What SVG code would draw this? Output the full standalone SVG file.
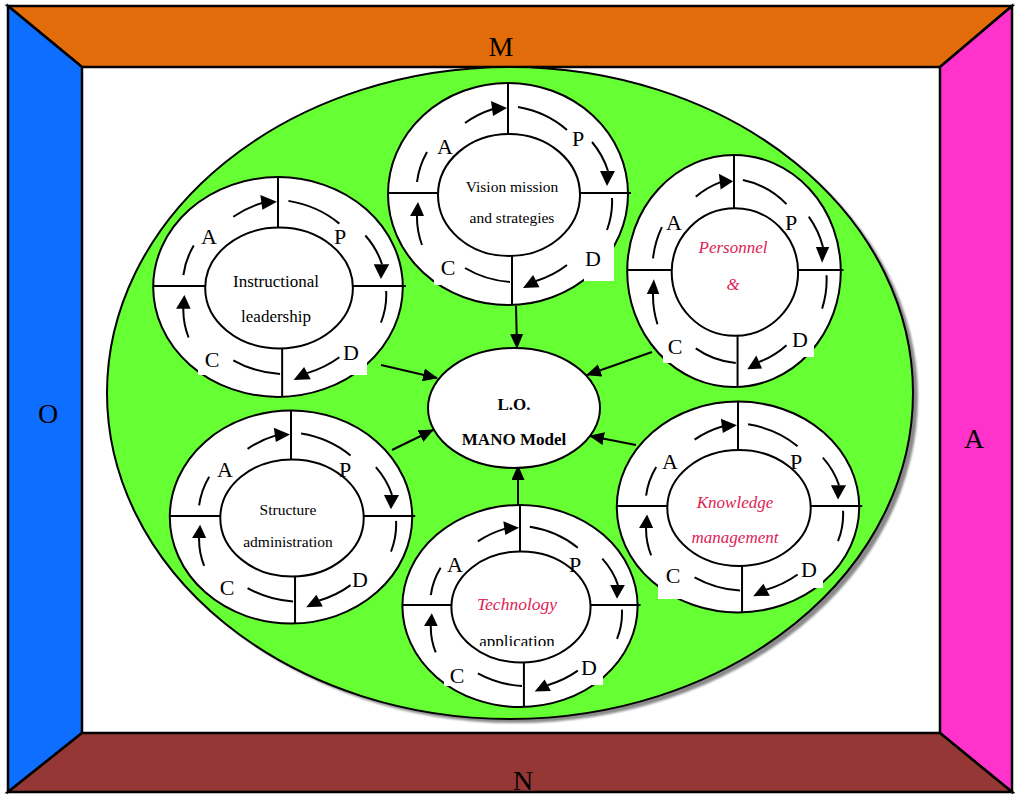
<svg xmlns="http://www.w3.org/2000/svg" xmlns:xlink="http://www.w3.org/1999/xlink" width="1015" height="794" viewBox="0 0 1015 794">
<style>
.fr{stroke:#000;stroke-width:2.5;stroke-linejoin:miter}
.big{font-family:"Liberation Serif",serif;font-size:28px;fill:#000;text-anchor:middle}
.o{fill:#fff;stroke:#000;stroke-width:2;vector-effect:non-scaling-stroke}
.l{fill:none;stroke:#000;stroke-width:2;vector-effect:non-scaling-stroke}
.h{fill:#000;stroke:none}
.wb{fill:#fff;stroke:none}
.pd{font-family:"Liberation Serif",serif;font-size:22px;fill:#000;text-anchor:middle}
.t{font-family:"Liberation Serif",serif;font-size:15.5px;fill:#000;text-anchor:middle}
.t17{font-family:"Liberation Serif",serif;font-size:17px;fill:#000;text-anchor:middle}
.it{font-family:"Liberation Serif",serif;font-size:17px;font-style:italic;fill:#DD2255;text-anchor:middle}
.b{font-family:"Liberation Serif",serif;font-size:17px;font-weight:bold;fill:#000;text-anchor:middle}
.c{fill:none;stroke:#000;stroke-width:2;marker-end:url(#ah)}
</style>
<defs>
<marker id="ah" markerUnits="userSpaceOnUse" markerWidth="15" markerHeight="13" refX="14" refY="6.5" orient="auto">
<path d="M0,0 L15,6.5 L0,13 Z" fill="#000"/>
</marker>
<filter id="blur" x="-5%" y="-5%" width="110%" height="110%"><feGaussianBlur stdDeviation="1.2"/></filter>
<clipPath id="clipApp"><rect x="470" y="620" width="100" height="26"/></clipPath>
<ellipse id="cycO" class="o" rx="120" ry="111"/>
<g id="cycI">
<ellipse class="o" cx="1" cy="1" rx="71" ry="61"/>
<path class="l" d="M-120,-1H-70 M72,-1H123 M0,-111V-60 M4,62V111"/>
<path class="l" d="M-43,-71 A96 87 0 0 1 -15,-85 M10,-87 A96 87 0 0 1 59,-64 M84,-52 A96 87 0 0 1 100,-23 M104,4 A96 87 0 0 1 99,36 M59,71 A96 87 0 0 1 28,87 M2,88 A96 87 0 0 1 -43,74 M-86,51 A96 87 0 0 1 -91,21 M-91,-12 A96 87 0 0 1 -81,-42"/>
<path class="h" d="M-1,-86 L-17,-93 L-15,-78Z M99,-8 L92,-23 L107,-23Z M15,94 L31.5,93.3 L25.1,80.9Z M-90,8 L-98,22 L-84,22Z"/>
</g>
</defs>

<g id="frame">
<rect x="82" y="67" width="858" height="666" fill="#fff" stroke="#000" stroke-width="2"/>
<polygon class="fr" points="8,6 1012,6 940,67 82,67" fill="#E36C0A"/>
<polygon class="fr" points="8,6 82,67 82,733 8,792" fill="#0D6EFF"/>
<polygon class="fr" points="1012,6 1012,792 940,733 940,67" fill="#FF33CC"/>
<polygon class="fr" points="8,792 82,733 940,733 1012,792" fill="#953735"/>
<text class="big" x="501" y="56">M</text>
<text class="big" x="48" y="423">O</text>
<text class="big" x="974" y="448">A</text>
<text class="big" x="523" y="790">N</text>
</g>

<g id="field">
<ellipse cx="515" cy="397" rx="403" ry="326" fill="#8a8a8a" filter="url(#blur)"/>
<ellipse cx="510" cy="393" rx="403" ry="326" fill="#66FF33" stroke="#000" stroke-width="2"/>
</g>

<g id="connectors">
<line class="c" x1="516" y1="306" x2="517" y2="348"/>
<line class="c" x1="381" y1="365" x2="437" y2="378"/>
<line class="c" x1="652" y1="352" x2="587" y2="375"/>
<line class="c" x1="392" y1="450" x2="433" y2="430"/>
<line class="c" x1="636" y1="445" x2="590" y2="436"/>
<line class="c" x1="518" y1="505" x2="518" y2="466"/>
</g>

<g id="center">
<ellipse cx="514" cy="408" rx="86" ry="60" fill="#fff" stroke="#000" stroke-width="2"/>
<text class="b" x="514" y="410">L.O.</text>
<text class="b" x="514" y="445">MANO Model</text>
</g>

<g id="vision">
<use xlink:href="#cycO" transform="translate(508,194)"/>
<rect class="wb" x="584" y="244" width="30" height="37"/>
<rect class="wb" x="434" y="258" width="28" height="27"/>
<use xlink:href="#cycI" transform="translate(508,194)"/>
<text class="pd" x="445" y="154">A</text>
<text class="pd" x="578" y="146">P</text>
<text class="pd" x="593" y="266">D</text>
<text class="pd" x="448" y="275">C</text>
<text class="t" x="512" y="192">Vision mission</text>
<text class="t" x="512" y="223">and strategies</text>
</g>

<g id="instructional">
<use xlink:href="#cycO" transform="translate(278,287) scale(1.04,0.99)"/>
<rect class="wb" x="340" y="345" width="27" height="30"/>
<rect class="wb" x="198" y="350" width="28" height="25"/>
<use xlink:href="#cycI" transform="translate(278,287) scale(1.04,0.99)"/>
<text class="pd" x="209" y="244">A</text>
<text class="pd" x="340" y="244">P</text>
<text class="pd" x="351" y="360">D</text>
<text class="pd" x="212" y="367">C</text>
<text class="t17" x="276" y="287">Instructional</text>
<text class="t17" x="276" y="322">leadership</text>
</g>

<g id="personnel">
<use xlink:href="#cycO" transform="translate(734,271) scale(0.89,1.045)"/>
<rect class="wb" x="789" y="330" width="25" height="27"/>
<rect class="wb" x="663" y="338" width="27" height="25"/>
<use xlink:href="#cycI" transform="translate(734,271) scale(0.89,1.045)"/>
<text class="pd" x="674" y="230">A</text>
<text class="pd" x="791" y="230">P</text>
<text class="pd" x="800" y="347">D</text>
<text class="pd" x="675" y="354">C</text>
<text class="it" x="733" y="253">Personnel</text>
<text class="it" x="733" y="290">&amp;</text>
</g>

<g id="structure">
<use xlink:href="#cycO" transform="translate(291,517) scale(1.01,0.96)"/>
<use xlink:href="#cycI" transform="translate(291,517) scale(1.01,0.96)"/>
<text class="pd" x="225" y="477">A</text>
<text class="pd" x="345" y="477">P</text>
<text class="pd" x="360" y="587">D</text>
<text class="pd" x="227" y="595">C</text>
<text class="t" x="288" y="515">Structure</text>
<text class="t" x="288" y="547">administration</text>
</g>

<g id="knowledge">
<use xlink:href="#cycO" transform="translate(738,507) scale(1.01,0.95)"/>
<rect class="wb" x="798" y="560" width="25" height="28"/>
<rect class="wb" x="658" y="565" width="32" height="34"/>
<use xlink:href="#cycI" transform="translate(738,507) scale(1.01,0.95)"/>
<text class="pd" x="670" y="469">A</text>
<text class="pd" x="796" y="469">P</text>
<text class="pd" x="809" y="577">D</text>
<text class="pd" x="673" y="583">C</text>
<text class="it" x="735" y="508">Knowledge</text>
<text class="it" x="735" y="543">management</text>
</g>

<g id="technology">
<use xlink:href="#cycO" transform="translate(520,606) scale(0.98,0.91)"/>
<rect class="wb" x="580" y="660" width="23" height="25"/>
<rect class="wb" x="444" y="660" width="26" height="26"/>
<use xlink:href="#cycI" transform="translate(520,606) scale(0.98,0.91)"/>
<text class="pd" x="455" y="572">A</text>
<text class="pd" x="575" y="572">P</text>
<text class="pd" x="589" y="675">D</text>
<text class="pd" x="457" y="683">C</text>
<text class="it" x="517" y="610" style="font-size:17.5px">Technology</text>
<text class="t17" x="517" y="647" clip-path="url(#clipApp)">application</text>
</g>
</svg>
